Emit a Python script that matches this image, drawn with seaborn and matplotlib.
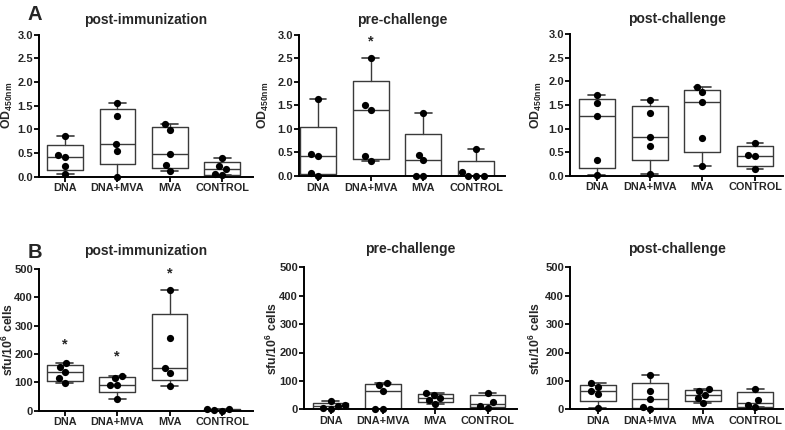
import numpy as np
import pandas as pd
import matplotlib
matplotlib.use("Agg")
import matplotlib.pyplot as plt
import seaborn as sns

# ---------------- data ----------------
groups = ["DNA", "DNA+MVA", "MVA", "CONTROL"]
titles = ["post-immunization", "pre-challenge", "post-challenge"]

od_post_immunization = [[0.87, 0.46, 0.42, 0.23, 0.06],
                        [1.56, 1.28, 0.70, 0.55, 0.00],
                        [1.11, 0.99, 0.47, 0.24, 0.11],
                        [0.39, 0.23, 0.16, 0.06, 0.03]]
od_pre_challenge = [[1.63, 0.47, 0.42, 0.07, 0.00],
                    [2.51, 1.51, 1.41, 0.42, 0.32],
                    [1.33, 0.45, 0.33, 0.00, 0.00],
                    [0.57, 0.08, 0.00, 0.00, 0.00]]
od_post_challenge = [[1.71, 1.54, 1.26, 0.33, 0.01],
                     [1.60, 1.34, 0.82, 0.62, 0.03],
                     [1.88, 1.77, 1.56, 0.79, 0.21],
                     [0.69, 0.44, 0.41, 0.14]]

sfu_post_immunization = [[169, 155, 136, 114, 99],
                         [121, 115, 91, 91, 40],
                         [425, 258, 152, 132, 86],
                         [7, 5, 2, 0]]
sfu_pre_challenge = [[30, 14, 11, 5, 0],
                     [94, 87, 65, 0, 0],
                     [56, 52, 39, 32, 20],
                     [58, 24, 11, 6]]
sfu_post_challenge = [[92, 80, 65, 54, 4],
                      [121, 66, 35, 8, 1],
                      [70, 66, 49, 40, 21],
                      [72, 31, 15, 7]]

# significance stars: (panel index, group index, y value)
od_stars = [(1, 1, 2.85)]
sfu_stars = [(0, 0, 232), (0, 1, 193), (0, 2, 485)]

od_ticks = [0.0, 0.5, 1.0, 1.5, 2.0, 2.5, 3.0]
sfu_ticks = [0, 100, 200, 300, 400, 500]

# ---------------- style ----------------
sns.set_theme(style="ticks")
plt.rcParams["font.family"] = ["Liberation Sans", "DejaVu Sans"]
plt.rcParams["font.weight"] = "bold"
plt.rcParams["mathtext.fontset"] = "custom"
plt.rcParams["mathtext.rm"] = "Liberation Sans:bold"
plt.rcParams["mathtext.bf"] = "Liberation Sans:bold"
plt.rcParams["mathtext.it"] = "Liberation Sans:bold"

W, H = 785, 430
fig = plt.figure(figsize=(W / 100, H / 100), dpi=100)

# axes boxes in pixels: left, right, top, bottom, xleft-margin, xright-margin
layout = [
    [(39, 253, 34.7, 176.7, 0.50, 0.59), (299, 505, 34.7, 176.0, 0.36, 0.55), (570, 783, 34.3, 175.7, 0.51, 0.53)],
    [(39, 253, 269.0, 410.7, 0.49, 0.59), (304, 517, 267.3, 409.3, 0.51, 0.56), (570, 783, 267.3, 409.3, 0.53, 0.53)],
]
# distance (px) from the y axis to the right edge of the y label
label_offsets = [[24, 28, 26], [23, 24, 27]]
title_pads = [8, 10]

rows = [
    dict(data=[od_post_immunization, od_pre_challenge, od_post_challenge], ticks=od_ticks,
         ylabel=r"$\mathbf{OD_{450nm}}$", fmt="{:.1f}", stars=od_stars, lab_size=8.8),
    dict(data=[sfu_post_immunization, sfu_pre_challenge, sfu_post_challenge], ticks=sfu_ticks,
         ylabel=r"$\mathbf{sfu/10^{6}\ cells}$", fmt="{:d}", stars=sfu_stars, lab_size=8.8),
]

box_color = "#3a3a3a"

for r, row in enumerate(rows):
    for c in range(3):
        l, rt, t, b, ml, mr = layout[r][c]
        ax = fig.add_axes([l / W, 1 - b / H, (rt - l) / W, (b - t) / H])
        panel = row["data"][c]
        df = pd.DataFrame({"group": [g for g, vals in zip(groups, panel) for _ in vals],
                           "value": [v for vals in panel for v in vals]})

        stats = []
        for g, vals in zip(groups, panel):
            q1, med, q3 = np.percentile(vals, [25, 50, 75], method="weibull")
            stats.append(dict(label=g, q1=q1, med=med, q3=q3,
                              whislo=min(vals), whishi=max(vals), fliers=[]))
        ax.bxp(stats, positions=range(len(groups)), widths=0.68, capwidths=0.32,
               showfliers=False, patch_artist=False,
               boxprops=dict(color=box_color, lw=1.0),
               whiskerprops=dict(color=box_color, lw=1.0),
               capprops=dict(color=box_color, lw=1.2),
               medianprops=dict(color=box_color, lw=1.0))

        sns.swarmplot(data=df, x="group", y="value", order=groups, color="black",
                      size=5.2, ax=ax, zorder=4)
        for coll in ax.collections:
            coll.set_clip_on(False)

        ax.set_xlim(-ml, len(groups) - 1 + mr)
        ticks = row["ticks"]
        ax.set_ylim(ticks[0], ticks[-1])
        ax.set_yticks(ticks)
        ax.set_yticklabels([row["fmt"].format(v) for v in ticks])
        ax.set_xticks(range(len(groups)))
        ax.set_xticklabels(groups)
        ax.set_xlabel("")
        ax.set_ylabel(row["ylabel"], fontsize=row["lab_size"])
        ax.yaxis.set_label_coords(-label_offsets[r][c] / (rt - l), 0.5)
        ax.set_title(titles[c], fontsize=10, fontweight="bold", pad=title_pads[r])
        sns.despine(ax=ax)
        for s in ["left", "bottom"]:
            ax.spines[s].set_linewidth(1.4)
            ax.spines[s].set_color("black")
        ax.tick_params(axis="both", direction="out", length=3.3, width=1.3,
                       pad=1.0, color="black")
        ax.tick_params(axis="y", labelsize=8)
        ax.tick_params(axis="x", labelsize=7.8, pad=1.5)
        for lab in ax.get_xticklabels() + ax.get_yticklabels():
            lab.set_fontweight("bold")

        for (pi, gi, yv) in row["stars"]:
            if pi == c:
                ax.text(gi, yv, "*", ha="center", va="center", fontsize=10.5,
                        fontweight="bold", clip_on=False)

fig.text(27 / W, 1 - 20 / H, "A", fontsize=14.5, fontweight="bold", ha="left", va="baseline")
fig.text(28 / W, 1 - 258 / H, "B", fontsize=14.5, fontweight="bold", ha="left", va="baseline")

fig.savefig("out.png", dpi=100, facecolor="white")
